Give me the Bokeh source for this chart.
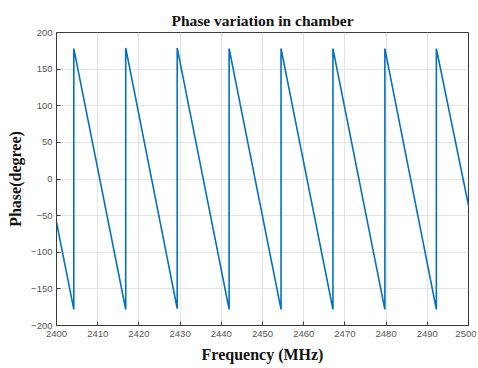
from bokeh.plotting import figure
from bokeh.models import Range1d, FixedTicker
from bokeh.embed import file_html
from bokeh.resources import INLINE

# Sawtooth phase data
freq = [2400.0, 2404.2, 2404.2, 2416.8, 2416.8, 2429.3, 2429.3, 2441.9, 2441.9,
        2454.5, 2454.5, 2467.1, 2467.1, 2479.7, 2479.7, 2492.2, 2492.2, 2500.0]
phase = [-59, -178, 178, -178, 179, -177, 179, -178, 178,
         -178, 178, -178, 178, -178, 178, -178, 178, -36]
x_ticks = [2400, 2410, 2420, 2430, 2440, 2450, 2460, 2470, 2480, 2490, 2500]
y_ticks = [-200, -150, -100, -50, 0, 50, 100, 150, 200]

p = figure(frame_width=412, frame_height=293, output_backend="svg", toolbar_location=None,
           x_range=Range1d(2400, 2500), y_range=Range1d(-200, 200),
           min_border_left=56, min_border_right=8, min_border_top=32, min_border_bottom=40)
p.title.text = "Phase variation in chamber"
p.title.align = "center"
p.title.text_font = "Liberation Serif"
p.title.text_font_size = "15.5px"
p.title.text_font_style = "bold"
p.title.text_color = "#111111"
p.title.offset = 0
p.title.standoff = 8

p.line(freq, phase, line_color="#0072BD", line_width=1.6)

p.outline_line_color = "#3a3a3a"
p.outline_line_width = 1
p.background_fill_color = "white"
p.border_fill_color = "white"

for ax in (p.xaxis[0], p.yaxis[0]):
    ax.major_tick_in = 4
    ax.major_tick_out = 0
    ax.minor_tick_line_color = None
    ax.axis_line_color = "#3a3a3a"
    ax.major_tick_line_color = "#3a3a3a"
    ax.major_label_text_font = "Liberation Sans"
    ax.major_label_text_font_size = "9.5px"
    ax.major_label_text_color = "#555555"
    ax.axis_label_text_font = "Liberation Serif"
    ax.axis_label_text_font_size = "16px"
    ax.axis_label_text_font_style = "bold"
    ax.axis_label_text_color = "#111111"

p.xaxis[0].ticker = FixedTicker(ticks=x_ticks)
p.yaxis[0].ticker = FixedTicker(ticks=y_ticks)
p.xaxis[0].axis_label = "Frequency (MHz)"
p.yaxis[0].axis_label = "Phase(degree)"
p.xaxis[0].major_label_standoff = 5
p.yaxis[0].major_label_standoff = 4
p.xaxis[0].axis_label_standoff = 6
p.yaxis[0].axis_label_standoff = 4

p.xgrid.ticker = FixedTicker(ticks=x_ticks)
p.ygrid.ticker = FixedTicker(ticks=y_ticks)
p.grid.grid_line_color = "#e3e3e3"
p.grid.grid_line_width = 1

open("out.html", "w").write(file_html(p, INLINE))
